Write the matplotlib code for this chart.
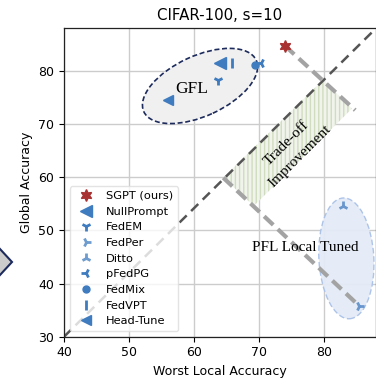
import matplotlib
matplotlib.use('Agg')
import matplotlib.pyplot as plt
from matplotlib.patches import Ellipse, Polygon

# ---- data ----
methods = ['SGPT (ours)', 'NullPrompt', 'FedEM', 'FedPer', 'Ditto',
           'pFedPG', 'FedMix', 'FedVPT', 'Head-Tune']
worst_local = [74.0, 64.0, 63.7, 85.4, 82.9, 70.3, 69.4, 65.8, 56.0]
global_acc = [84.7, 81.4, 78.3, 35.8, 54.5, 81.4, 81.1, 81.4, 74.5]
markers = [(6, 1, 0), '<', '1', '4', '2', '3', 'o', '|', '<']
msizes = [8.5, 9, 6.5, 6.5, 6.5, 6.5, 5, 7, 7]
colors = ['#a83232'] + ['#3f7bbf'] * 8
alphas = [1, 1, 1, 0.75, 0.75, 1, 1, 1, 1]

xticks = [40, 50, 60, 70, 80]
yticks = [30, 40, 50, 60, 70, 80]

# trade-off annotation (data coords)
line1_x = [74.0, 84.8]
line1_y = [84.7, 72.6]
line2_x = [64.5, 85.4]
line2_y = [59.9, 35.8]
band_x = [64.5, 79.85, 84.3, 69.2]
band_y = [59.9, 78.3, 72.9, 54.6]

fig = plt.figure(figsize=(3.76, 3.84), dpi=100)
ax = fig.add_axes([64 / 376, (384 - 336.7) / 384, 312 / 376, 308.4 / 384])
ax.set_xlim(40, 88)
ax.set_ylim(30, 88)
ax.set_xticks(xticks)
ax.set_yticks(yticks)
ax.grid(True, color='#cccccc', lw=1.0)
ax.set_axisbelow(True)
ax.tick_params(labelsize=9)
for s in ax.spines.values():
    s.set_color('#222222')
    s.set_linewidth(0.9)

# ellipses
ax.add_patch(Ellipse((0.436, 0.813), 0.397, 0.195, angle=25,
                     transform=ax.transAxes, facecolor='#f0f0f0',
                     edgecolor='#1c2a5c', lw=1.2, ls=(0, (3, 1.6)), zorder=1))
ax.add_patch(Ellipse((0.905, 0.254), 0.176, 0.392, angle=3,
                     transform=ax.transAxes, facecolor='#e4ebf7',
                     edgecolor='#a9c1e8', lw=1.0, ls=(0, (4, 2)), zorder=1, alpha=0.95))

# band
ax.add_patch(Polygon(list(zip(band_x, band_y)), closed=True,
                     facecolor='#f1f4ec', edgecolor='#cfdcbf', lw=0,
                     hatch='||||', zorder=1.5))

# diagonal
ax.plot([0, 1], [0, 1], transform=ax.transAxes, color='#555555', lw=1.8,
        ls=(0, (4, 2.5)), zorder=2)
# gray connector lines
ax.plot(line1_x, line1_y, color='#a3a3a3', lw=3, ls=(0, (3, 1.5)), zorder=2.2)
ax.plot(line2_x, line2_y, color='#a3a3a3', lw=3, ls=(0, (3, 1.5)), zorder=2.2)

# points
for m, x, y, mk, ms, c, a in zip(methods, worst_local, global_acc, markers,
                                  msizes, colors, alphas):
    mew = 2.0 if mk in ('1', '2', '3', '4', '|') else 1
    ax.plot([x], [y], ls='none', marker=mk, markersize=ms, color=c,
            markeredgewidth=mew, alpha=a, label=m, zorder=3)

# texts
ax.text(59.7, 76.6, 'GFL', family='Liberation Serif', fontsize=12.5,
        ha='center', va='center', zorder=4)
ax.text(77.1, 46.7, 'PFL Local Tuned', family='Liberation Serif',
        fontsize=11, ha='center', va='center', zorder=4)
ax.text(75.2, 65.2, 'Trade-off\nImprovement', family='Liberation Serif',
        fontsize=11, ha='center', va='center', rotation=45,
        rotation_mode='anchor', linespacing=1.6, zorder=4)

ax.set_title('CIFAR-100, s=10', fontsize=10.8)
ax.set_xlabel('Worst Local Accuracy', fontsize=9)
ax.set_ylabel('Global Accuracy', fontsize=9)

leg = ax.legend(loc='lower left', fontsize=8.2, framealpha=0.8,
                edgecolor='#dddddd', handletextpad=0.8)
leg.set_zorder(5)

# fragment of neighbouring panel at left edge
fig.add_artist(Polygon([(-12 / 376, (384 - 262) / 384), (0, (384 - 249) / 384),
                        (12 / 376, (384 - 262) / 384), (0, (384 - 275) / 384)],
                       closed=True, facecolor='#cccccc', edgecolor='#1c2a5c',
                       lw=1.5, transform=fig.transFigure))

fig.savefig('out.png', dpi=100)
